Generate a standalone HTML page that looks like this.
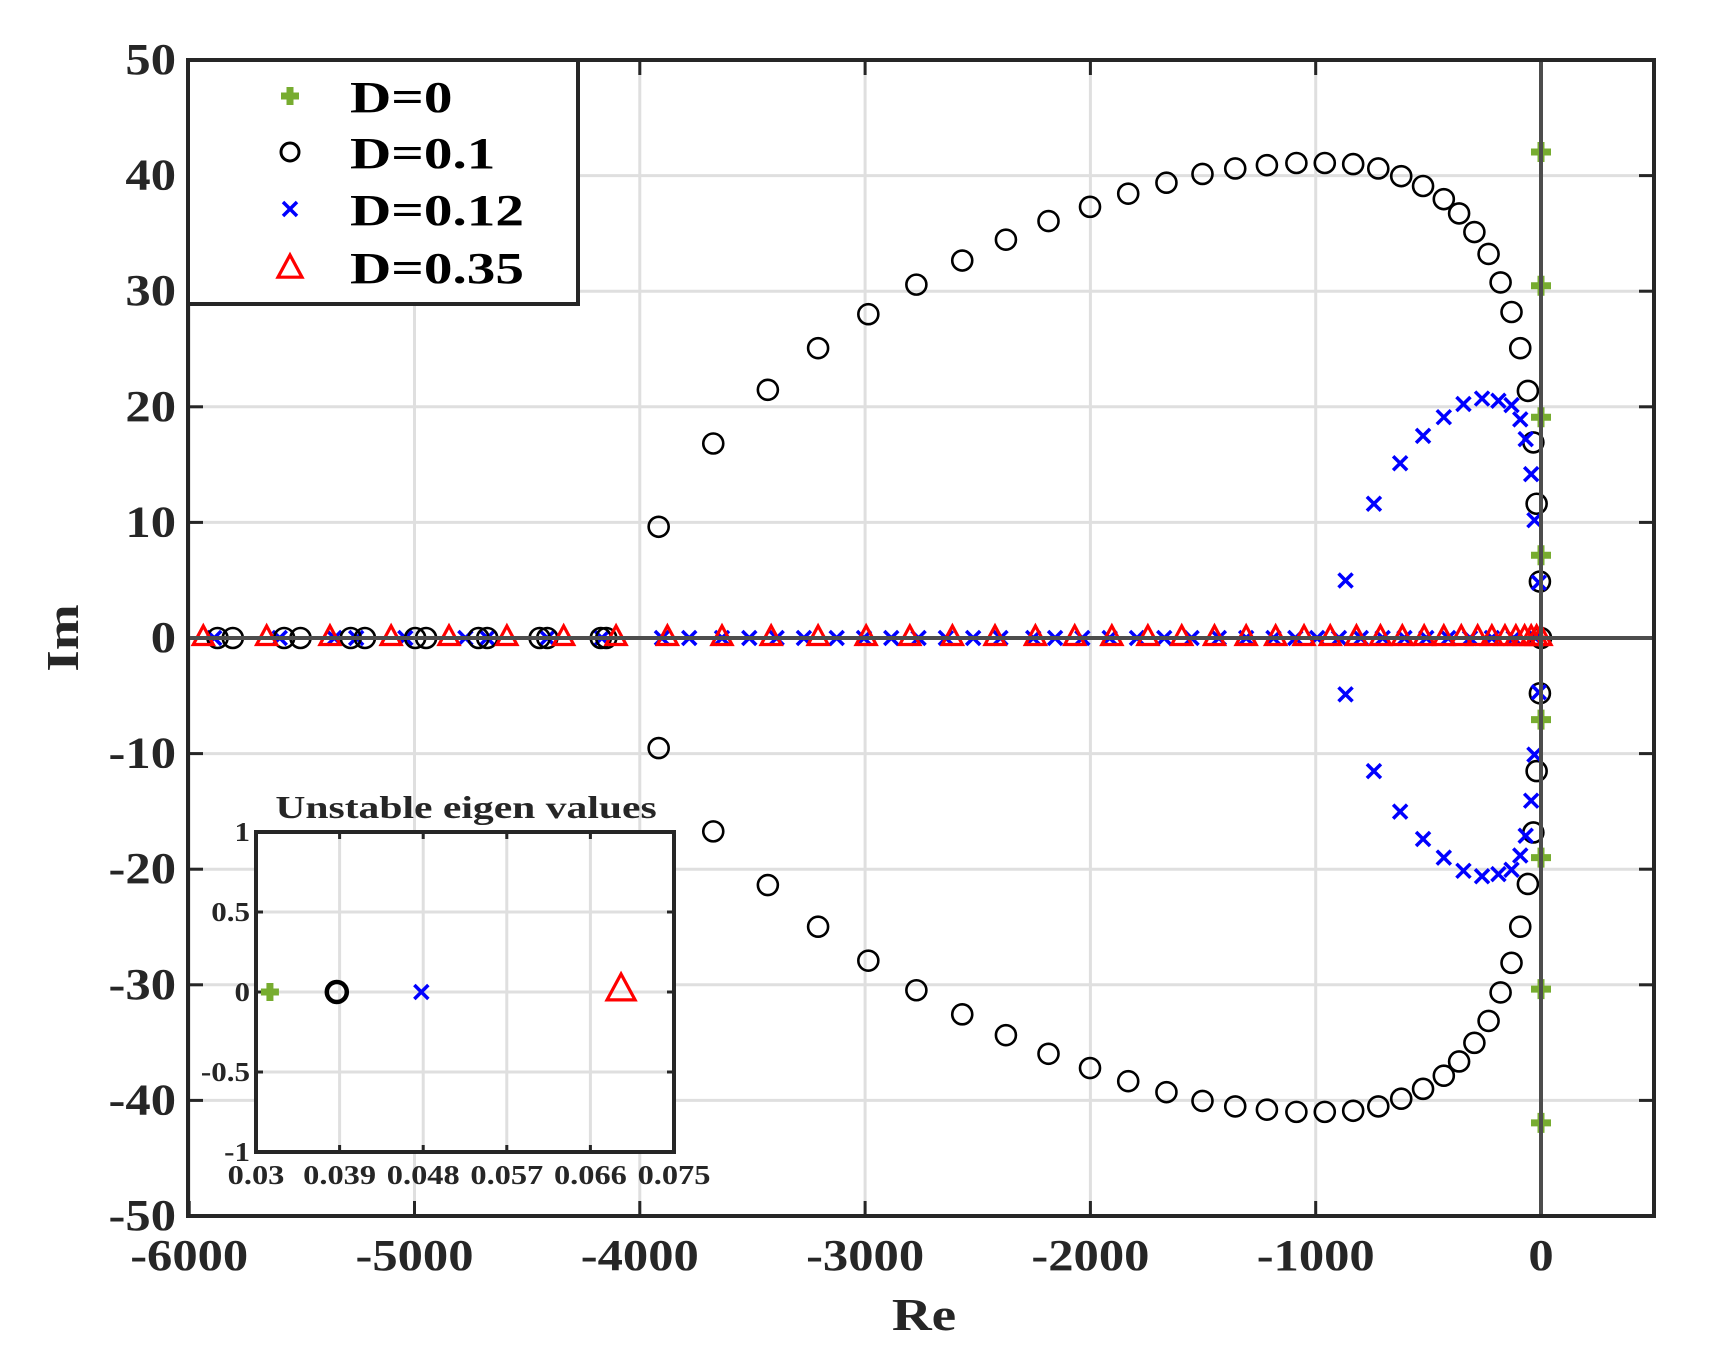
<!DOCTYPE html>
<html><head><meta charset="utf-8"><style>
html,body{margin:0;padding:0;background:#fff;}
svg{display:block;}
text{font-family:"Liberation Serif",serif;font-weight:bold;fill:#262626;}
</style></head><body>
<svg id="s" width="1719" height="1371" viewBox="0 0 1719 1371" xmlns="http://www.w3.org/2000/svg"></svg>
<script>
const s=document.getElementById('s');
let h='';
const X=v=>1541+v*0.2253, Y=v=>638-v*11.56;
const TX=tx=>1541+(tx-1405)*1.092, TY=ty=>60+(ty-53)*1.0957;
const L=188,R=1654,T=60,B=1216;
const TXT=(x,y,size,anchor,str,sx,fill)=>`<text transform="translate(${x},${y}) scale(${sx},1)" font-size="${size}" text-anchor="${anchor}"${fill?` style="fill:${fill}"`:''}>${str}</text>`;
// grid
for(let v=-6000;v<=0;v+=1000)h+=`<line x1="${X(v)}" y1="${T}" x2="${X(v)}" y2="${B}" stroke="#dfdfdf" stroke-width="3"/>`;
for(let v=-50;v<=50;v+=10)h+=`<line x1="${L}" y1="${Y(v)}" x2="${R}" y2="${Y(v)}" stroke="#dfdfdf" stroke-width="3"/>`;
// ticks
for(let v=-6000;v<=0;v+=1000){h+=`<line x1="${X(v)}" y1="${B}" x2="${X(v)}" y2="${B-15}" stroke="#262626" stroke-width="3"/><line x1="${X(v)}" y1="${T}" x2="${X(v)}" y2="${T+15}" stroke="#262626" stroke-width="3"/>`;
 h+=TXT(X(v),B+54,44,'middle',v,1.15);}
for(let v=-50;v<=50;v+=10){h+=`<line x1="${L}" y1="${Y(v)}" x2="${L+15}" y2="${Y(v)}" stroke="#262626" stroke-width="3"/><line x1="${R}" y1="${Y(v)}" x2="${R-15}" y2="${Y(v)}" stroke="#262626" stroke-width="3"/>`;
 h+=TXT(L-12,Y(v)+14,44,'end',v,1.15);}
// markers
const circ=(x,y,r=10,w=2.6)=>`<circle cx="${x}" cy="${y}" r="${r}" fill="none" stroke="#000" stroke-width="${w}"/>`;
const cross=(x,y,d=7)=>`<path d="M${x-d} ${y-d}L${x+d} ${y+d}M${x-d} ${y+d}L${x+d} ${y-d}" stroke="#0000ff" stroke-width="3.5"/>`;
const tri=(x,y,a=12)=>`<path d="M${x} ${y-a}L${x+a} ${y+a*0.85}L${x-a} ${y+a*0.85}Z" fill="none" stroke="#ff0000" stroke-width="3.2"/>`;
const plus=(x,y,d=10)=>`<path d="M${x-d} ${y}H${x+d}M${x} ${y-d}V${y+d}" stroke="#77ac30" stroke-width="7"/>`;
const circU=[[597,479],[647,403],[697,354],[743,316],[789,285],[833,258],[875,236],[915,217],[954,200],[992,187],[1027,175],[1062,165],[1095,157],[1125,152],[1154,149],[1181,147],[1207,147],[1233,148],[1256,152],[1277,159],[1297,168],[1316,180],[1330,193],[1344,210],[1357,230],[1368,256],[1378,283],[1386,316],[1393,355],[1398,402],[1401,458],[1404,529]];
const crossU=[[1226,528],[1252,458],[1276,421],[1297,396],[1316,379],[1334,367],[1351,362],[1366,364],[1378,368],[1386,381],[1391,399],[1396,431],[1399,473],[1403,530]];
const crossAx=[190,250,300,320,365,420,440,495,545,600,625,655,680,705,730,760,785,810,835,860,885,910,940,960,985,1010,1035,1060,1085,1110,1135,1160,1180,1200,1220,1240,1260,1280,1300,1320,1340,1360,1380,1400];
crossAx.forEach(t=>h+=cross(TX(t),638));
[193,207,254,269,315,328,374,384,432,440,488,495,544,549,1405].forEach(t=>h+=circ(TX(t),638));
circU.forEach(([a,b])=>{h+=circ(TX(a),TY(b));h+=circ(TX(a),TY(1160-b));});
crossU.forEach(([a,b])=>{h+=cross(TX(a),TY(b));h+=cross(TX(a),TY(1160-b));});
[180,238,296,352,405,458,510,558,605,655,700,743,787,827,866,905,942,978,1012,1045,1076,1106,1135,1162,1188,1212,1236,1258,1278,1298,1316,1332,1347,1360,1372,1382,1390,1396,1401,1405].forEach(t=>h+=tri(TX(t),636,10));
[137,259,379,505].forEach(t=>{h+=plus(1541,TY(t));h+=plus(1541,TY(1160-t));});
// zero lines
h+=`<line x1="${X(0)}" y1="${T}" x2="${X(0)}" y2="${B}" stroke="#4d4d4d" stroke-width="4"/>`;
h+=`<line x1="${L}" y1="638" x2="${R}" y2="638" stroke="#4d4d4d" stroke-width="4"/>`;
// box
h+=`<rect x="${L}" y="${T}" width="${R-L}" height="${B-T}" fill="none" stroke="#262626" stroke-width="4"/>`;
// labels
h+=TXT(924,1330,46,'middle','Re',1.2);
h+=`<text transform="translate(78,638) rotate(-90) scale(1.2,1)" font-size="46" text-anchor="middle">Im</text>`;
// legend
h+=`<rect x="${L}" y="${T}" width="390" height="244" fill="#fff" stroke="#262626" stroke-width="4"/>`;
const ly=[96,152,209,267];
h+=plus(290,ly[0],9);h+=circ(290,ly[1],9,3);h+=cross(290,ly[2],7);h+=tri(290,ly[3],12);
['D=0','D=0.1','D=0.12','D=0.35'].forEach((t,i)=>h+=TXT(350,ly[i]+16,44,'start',t,1.3,'#000'));
// inset
const iL=256,iR=674,iT=832,iB=1152;
const IX=v=>iL+(v-0.03)/0.045*(iR-iL), IY=v=>(iT+iB)/2-v*(iB-iT)/2;
h+=`<rect x="${iL}" y="${iT}" width="${iR-iL}" height="${iB-iT}" fill="#fff"/>`;
for(let i=0;i<=5;i++){const v=0.03+i*0.009,x=IX(v);
 if(i>0&&i<5)h+=`<line x1="${x}" y1="${iT}" x2="${x}" y2="${iB}" stroke="#dfdfdf" stroke-width="3"/>`;
 h+=`<line x1="${x}" y1="${iT}" x2="${x}" y2="${iT+7}" stroke="#262626" stroke-width="3"/><line x1="${x}" y1="${iB}" x2="${x}" y2="${iB-7}" stroke="#262626" stroke-width="3"/>`;
 h+=TXT(x,iB+32,27,'middle',+v.toFixed(3),1.2);}
[-1,-0.5,0,0.5,1].forEach(v=>{const y=IY(v);
 if(v>-1&&v<1)h+=`<line x1="${iL}" y1="${y}" x2="${iR}" y2="${y}" stroke="#dfdfdf" stroke-width="3"/>`;
 h+=`<line x1="${iL}" y1="${y}" x2="${iL+7}" y2="${y}" stroke="#262626" stroke-width="3"/><line x1="${iR}" y1="${y}" x2="${iR-7}" y2="${y}" stroke="#262626" stroke-width="3"/>`;
 h+=TXT(iL-6,y+9,27,'end',v,1.15);});
h+=plus(IX(0.0315),IY(0),9);h+=circ(IX(0.0387),IY(0),10,4.5);h+=cross(IX(0.0478),IY(0),7);h+=tri(IX(0.0693),IY(0)-4,14);
h+=`<rect x="${iL}" y="${iT}" width="${iR-iL}" height="${iB-iT}" fill="none" stroke="#262626" stroke-width="4"/>`;
h+=TXT(466,818,32,'middle','Unstable eigen values',1.3);
s.innerHTML=h;
</script>
</body></html>
